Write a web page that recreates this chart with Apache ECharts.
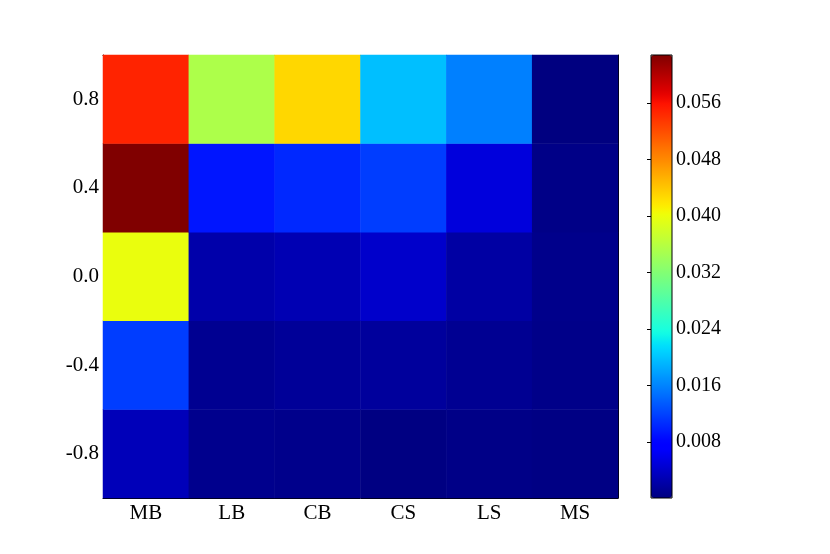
<!DOCTYPE html>
<html>
<head>
<meta charset="utf-8">
<script src="https://cdn.jsdelivr.net/npm/echarts@6/dist/echarts.min.js"></script>
<style>
  html, body { margin: 0; padding: 0; background: #fff; }
  #chart { width: 830px; height: 554px; }
</style>
</head>
<body>
<div id="chart"></div>
<script>
// columns and rows of the heat map
var xCats = ['MB', 'LB', 'CB', 'CS', 'LS', 'MS'];
var yCats = ['-0.8', '-0.4', '0.0', '0.4', '0.8'];   // bottom -> top

// values per row (one array per y label)
var rowM08 = [0.0032, 0.0008, 0.0007, 0.0002, 0.0005, 0.0003];
var rowM04 = [0.0117, 0.0010, 0.0014, 0.0016, 0.0011, 0.0006];
var row00  = [0.0399, 0.0024, 0.0029, 0.0042, 0.0020, 0.0007];
var row04  = [0.0628, 0.0092, 0.0104, 0.0117, 0.0051, 0.0005];
var row08  = [0.0548, 0.0352, 0.0429, 0.0197, 0.0158, 0.0001];

// colour bar range and ticks
var cMin = 0.0001;
var cMax = 0.0628;
var cbTicks = [0.008, 0.016, 0.024, 0.032, 0.040, 0.048, 0.056];

var rows = [rowM08, rowM04, row00, row04, row08];
var heatData = [];
rows.forEach(function (row, yi) {
    row.forEach(function (v, xi) {
        heatData.push([xi, yi, v]);
    });
});

// matplotlib "jet" colour map
function seg(pts, t) {
    for (var i = 1; i < pts.length; i++) {
        if (t <= pts[i][0]) {
            var a = pts[i - 1], b = pts[i];
            return a[1] + (b[1] - a[1]) * (t - a[0]) / (b[0] - a[0]);
        }
    }
    return pts[pts.length - 1][1];
}
var jetR = [[0, 0], [0.35, 0], [0.66, 1], [0.89, 1], [1, 0.5]];
var jetG = [[0, 0], [0.125, 0], [0.375, 1], [0.64, 1], [0.91, 0], [1, 0]];
var jetB = [[0, 0.5], [0.11, 1], [0.34, 1], [0.65, 0], [1, 0]];
var jet = [];
for (var i = 0; i <= 64; i++) {
    var t = i / 64;
    jet.push('rgb(' + Math.round(seg(jetR, t) * 255) + ',' +
        Math.round(seg(jetG, t) * 255) + ',' + Math.round(seg(jetB, t) * 255) + ')');
}

var font = 'Liberation Serif';
var frame = { show: true, lineStyle: { color: '#000', width: 1 } };
var tick = { show: true, inside: true, length: 4, alignWithLabel: true, lineStyle: { color: '#000' } };

var myChart = echarts.init(document.getElementById('chart'));
var option = {
    animation: false,
    backgroundColor: '#fff',
    grid: [
        { left: 103, top: 55, width: 515, height: 443, show: false },
        { left: 651, top: 55, width: 21, height: 443, show: true, borderColor: '#000', borderWidth: 1, backgroundColor: 'transparent', z: 5 }
    ],
    xAxis: [
        {
            gridIndex: 0, type: 'category', data: xCats, position: 'bottom',
            axisLine: frame, axisTick: tick, splitLine: { show: false },
            axisLabel: { color: '#000', fontFamily: font, fontSize: 21, margin: 5 }
        },
        {
            gridIndex: 0, type: 'category', data: xCats, position: 'top',
            axisLine: frame, axisTick: tick, axisLabel: { show: false }
        },
        { gridIndex: 1, type: 'value', show: false, min: 0, max: 1 }
    ],
    yAxis: [
        {
            gridIndex: 0, type: 'category', data: yCats, position: 'left',
            axisLine: frame, axisTick: tick, splitLine: { show: false },
            axisLabel: { color: '#000', fontFamily: font, fontSize: 21, margin: 4 }
        },
        {
            gridIndex: 0, type: 'category', data: yCats, position: 'right',
            axisLine: frame, axisTick: tick, axisLabel: { show: false }
        },
        {
            gridIndex: 1, type: 'value', position: 'right', min: cMin, max: cMax,
            axisLine: { show: false }, splitLine: { show: false },
            axisTick: { show: true, inside: true, length: 4, customValues: cbTicks, lineStyle: { color: '#000' } },
            axisLabel: {
                color: '#000', fontFamily: font, fontSize: 20, margin: 4,
                customValues: cbTicks,
                formatter: function (v) { return v.toFixed(3); }
            }
        }
    ],
    visualMap: {
        type: 'continuous',
        seriesIndex: 0,
        min: cMin,
        max: cMax,
        calculable: false,
        hoverLink: false,
        left: 651,
        top: 55,
        padding: 0,
        itemWidth: 21,
        itemHeight: 443,
        text: null,
        showLabel: false,
        inRange: { color: jet }
    },
    series: [
        {
            type: 'heatmap',
            xAxisIndex: 0,
            yAxisIndex: 0,
            data: heatData,
            itemStyle: { borderWidth: 0 },
            emphasis: { disabled: true }
        },
        {
            type: 'line',
            xAxisIndex: 2,
            yAxisIndex: 2,
            data: [],
            silent: true
        }
    ]
};
option && myChart.setOption(option);
</script>
</body>
</html>
